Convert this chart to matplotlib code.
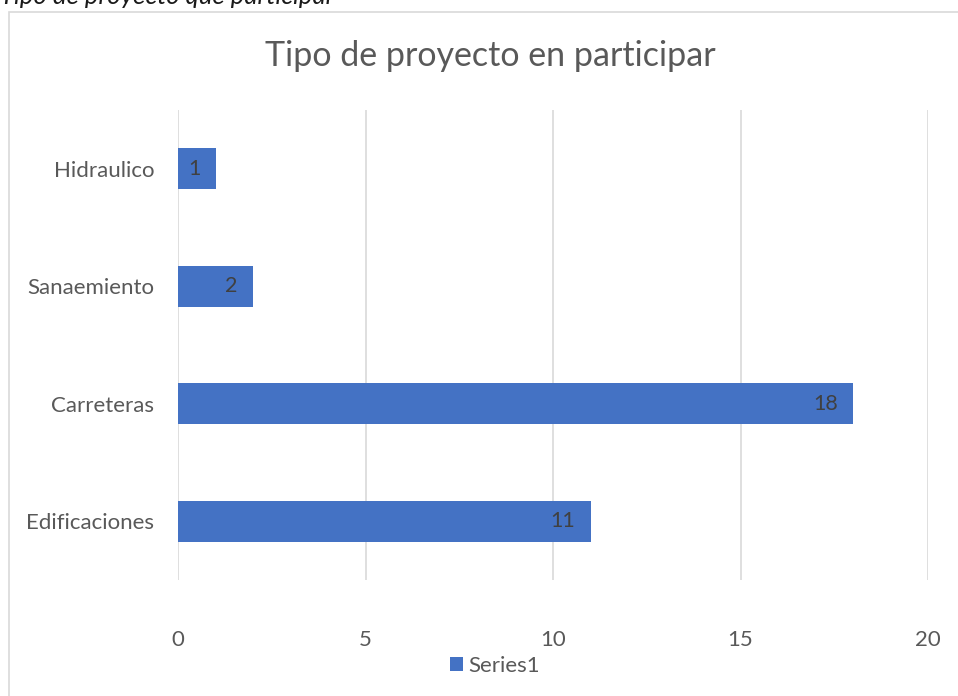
import matplotlib.pyplot as plt
from matplotlib.patches import Rectangle

# Tipo de proyecto en que participaron los encuestados
categorias = ["Edificaciones", "Carreteras", "Sanaemiento", "Hidraulico"]
cantidades = [11, 18, 2, 1]
ticks_x = [0, 5, 10, 15, 20]

plt.rcParams["font.family"] = ["Lato", "DejaVu Sans"]

AZUL = "#4472C4"
GRIS_TEXTO = "#595959"
GRIS_LINEA = "#d9d9d9"

fig = plt.figure(figsize=(9.58, 6.96), dpi=100)

# marco del grafico (se sale por la derecha y por abajo)
fig.patches.append(Rectangle((9 / 958, -0.01), 1.0, 1 - 12 / 696 + 0.01,
                             transform=fig.transFigure, fill=False,
                             edgecolor=GRIS_LINEA, linewidth=1.2))

# leyenda de la figura, cortada arriba
fig.text(0.0, 1 - 4 / 696, "Tipo de proyecto que participar", fontsize=18.5,
         style="italic", color="#1a1a1a", ha="left", va="baseline")

ax = fig.add_axes([178 / 958, 1 - 580 / 696, 750 / 958, 470 / 696])
pos = range(len(categorias))
barras = ax.barh(pos, cantidades, height=0.35, color=AZUL, zorder=3)

for b, v in zip(barras, cantidades):
    ax.annotate(str(v), (b.get_width(), b.get_y() + b.get_height() / 2),
                xytext=(-11, 0), textcoords="offset points",
                ha="right", va="center", fontsize=15.5, color="#404040", zorder=4)

ax.set_xlim(0, 20)
ax.set_ylim(-0.5, 3.5)
ax.set_xticks(ticks_x)
ax.set_yticks(list(pos))
ax.set_yticklabels(categorias)
ax.tick_params(axis="both", length=0, labelsize=16, labelcolor=GRIS_TEXTO)
ax.tick_params(axis="x", pad=36)
ax.tick_params(axis="y", pad=17)
ax.grid(axis="x", color=GRIS_LINEA, linewidth=1.2, zorder=0)
for s in ax.spines.values():
    s.set_visible(False)

fig.text(490 / 958, 1 - 56 / 696, "Tipo de proyecto en participar", fontsize=24.5,
         color=GRIS_TEXTO, ha="center", va="center")

ax.legend([barras], ["Series1"], loc="center", bbox_to_anchor=(495 / 958, 1 - 666 / 696),
          bbox_transform=fig.transFigure, frameon=False, fontsize=16,
          labelcolor=GRIS_TEXTO, handlelength=0.6, handleheight=0.6,
          handletextpad=0.25)

fig.savefig("out.png", dpi=100)
